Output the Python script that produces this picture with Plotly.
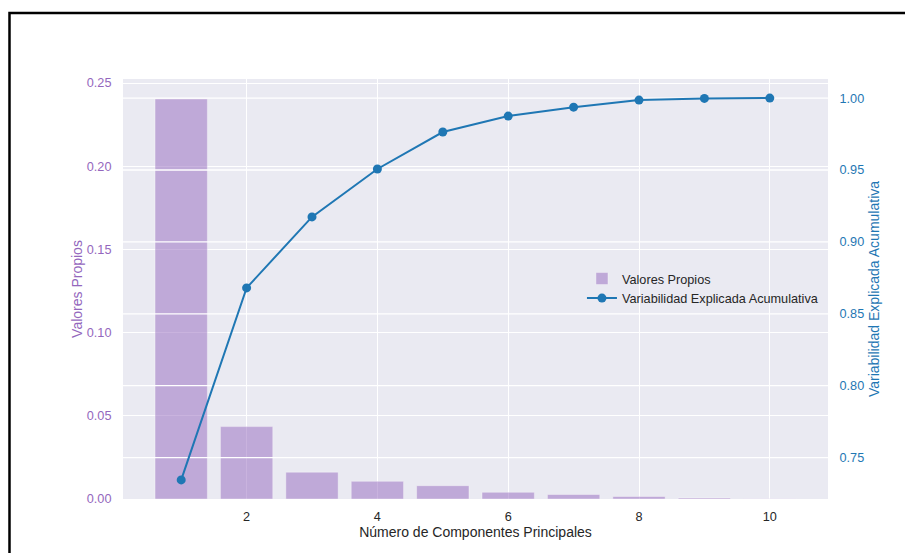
import plotly.graph_objects as go

# Principal components and their eigenvalues / cumulative explained variance
componentes = [1, 2, 3, 4, 5, 6, 7, 8, 9, 10]
valores_propios = [0.2404, 0.0435, 0.0161, 0.0106, 0.0080, 0.0040, 0.0027, 0.0015, 0.0006, 0.0002]
var_acumulada = [0.7345, 0.8680, 0.9174, 0.9507, 0.9764, 0.9875, 0.9937, 0.9986, 0.9998, 1.0000]

x_ticks = [2, 4, 6, 8, 10]
y1_ticks = [0.00, 0.05, 0.10, 0.15, 0.20, 0.25]
y2_ticks = [0.75, 0.80, 0.85, 0.90, 0.95, 1.00]

PURPLE = "#9467bd"
BLUE = "#1f77b4"
BG = "#eaeaf2"
FONT = "Liberation Sans, Arial, sans-serif"
BAR_W = 0.8

# axis ranges with 5% padding like the default autoscale
x_lo, x_hi = min(componentes) - BAR_W / 2, max(componentes) + BAR_W / 2
x_pad = 0.05 * (x_hi - x_lo)
x_range = [x_lo - x_pad, x_hi + x_pad]
y1_range = [0, max(valores_propios) * 1.05]
span2 = max(var_acumulada) - min(var_acumulada)
y2_range = [min(var_acumulada) - 0.05 * span2, max(var_acumulada) + 0.05 * span2]

fig = go.Figure()

fig.add_trace(go.Bar(
    x=componentes, y=valores_propios, width=BAR_W,
    name="Valores Propios",
    marker=dict(color="rgba(148,103,189,0.5)",
                line=dict(color="rgba(255,255,255,0.35)", width=1)),
    yaxis="y",
))

# secondary-axis gridlines, drawn above the bars but below the line
gx, gy = [], []
for t in y2_ticks:
    gx += [x_range[0], x_range[1], None]
    gy += [t, t, None]
fig.add_trace(go.Scatter(
    x=gx, y=gy, mode="lines", yaxis="y2",
    line=dict(color="white", width=1.3),
    showlegend=False, hoverinfo="skip",
))

fig.add_trace(go.Scatter(
    x=componentes, y=var_acumulada, mode="lines+markers",
    name="Variabilidad Explicada Acumulativa",
    line=dict(color=BLUE, width=2),
    marker=dict(color=BLUE, size=9),
    yaxis="y2",
))

fig.update_layout(
    width=905, height=553,
    margin=dict(l=123, r=77, t=79, b=54),
    paper_bgcolor="white",
    plot_bgcolor=BG,
    font=dict(family=FONT, size=12.7, color="#262626"),
    showlegend=True,
    legend=dict(x=0.651, y=0.56, xanchor="left", yanchor="top",
                bgcolor="rgba(0,0,0,0)", font=dict(size=12.7, color="#262626"),
                tracegroupgap=0),
    xaxis=dict(
        range=x_range, tickvals=x_ticks, showgrid=True, gridcolor="white",
        gridwidth=1.3, zeroline=False, showline=False,
        ticks="outside", ticklen=6, tickcolor="rgba(0,0,0,0)",
        tickfont=dict(size=12.7, color="#262626"),
        title=dict(text="Número de Componentes Principales",
                   font=dict(size=14, color="#262626"), standoff=3),
    ),
    yaxis=dict(
        range=y1_range, tickvals=y1_ticks, tickformat=".2f",
        showgrid=True, gridcolor="white", gridwidth=1.3, zeroline=False,
        showline=False, ticks="outside", ticklen=8, tickcolor="rgba(0,0,0,0)",
        tickfont=dict(size=12.7, color=PURPLE),
        title=dict(text="Valores Propios", font=dict(size=14, color=PURPLE), standoff=0),
    ),
    yaxis2=dict(
        range=y2_range, tickvals=y2_ticks, tickformat=".2f",
        overlaying="y", side="right", showgrid=False, zeroline=False,
        showline=False, ticks="outside", ticklen=8, tickcolor="rgba(0,0,0,0)",
        tickfont=dict(size=12.7, color=BLUE),
        title=dict(text="Variabilidad Explicada Acumulativa",
                   font=dict(size=14, color=BLUE), standoff=5),
    ),
    shapes=[dict(
        type="rect", xref="paper", yref="paper",
        x0=-0.161, x1=1.2, y0=-0.3, y1=1.157,
        line=dict(color="black", width=2.5), fillcolor="rgba(0,0,0,0)",
        layer="above",
    )],
)

fig.write_html("out.html")
